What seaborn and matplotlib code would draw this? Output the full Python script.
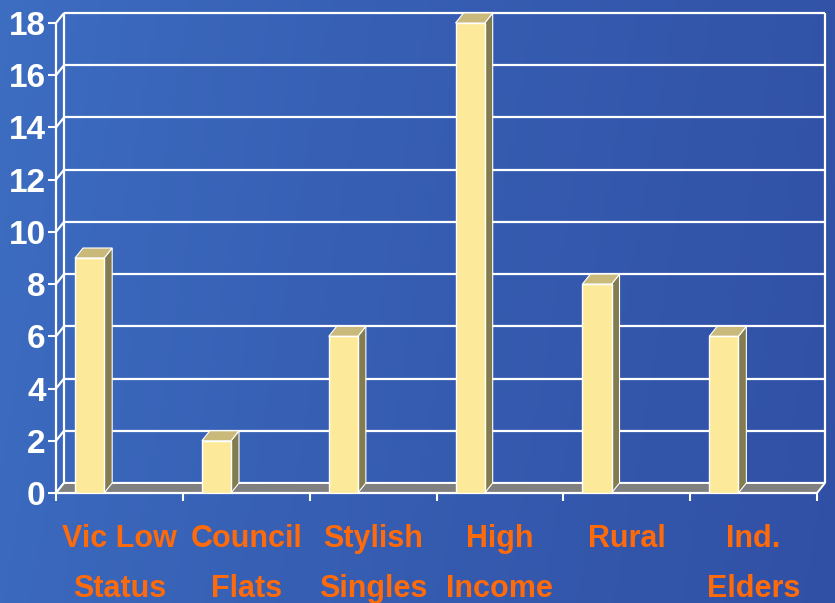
import numpy as np
import pandas as pd
import matplotlib
matplotlib.use("Agg")
import matplotlib.pyplot as plt
import seaborn as sns
from matplotlib.transforms import IdentityTransform
from matplotlib.patches import Polygon
from matplotlib.lines import Line2D

# ---- data ----
categories = ["Vic Low\nStatus", "Council\nFlats", "Stylish\nSingles",
              "High\nIncome", "Rural", "Ind.\nElders"]
values = [9, 2, 6, 18, 8, 6]
y_ticks = [0, 2, 4, 6, 8, 10, 12, 14, 16, 18]

sns.set_theme(style="white")
plt.rcParams['font.family'] = ['Liberation Sans', 'DejaVu Sans']

W, H, DPI = 835, 603, 100
fig = plt.figure(figsize=(W / DPI, H / DPI), dpi=DPI)

# background gradient
bg = fig.add_axes([0, 0, 1, 1])
bg.set_axis_off()
xs = np.linspace(0, 1, 200)[None, :]
ys = np.linspace(0, 1, 150)[:, None]
left = np.array([0x3D, 0x6E, 0xC2]) / 255
right = np.array([0x30, 0x4F, 0xA4]) / 255
t = np.clip(xs * 0.85 + ys * 0.1, 0, 1) ** 0.8
img = left[None, None, :] * (1 - t[..., None]) + right[None, None, :] * t[..., None]
bg.imshow(img, aspect='auto', extent=[0, 1, 0, 1], origin='upper')
bg.set_xlim(0, 1); bg.set_ylim(0, 1)

# front plane of the chart
x_left, x_right, y_bot, y_top = 56, 817, 493, 23
ax = fig.add_axes([x_left / W, (H - y_bot) / H, (x_right - x_left) / W, (y_bot - y_top) / H])
ax.patch.set_alpha(0)

df = pd.DataFrame({"segment": categories, "count": values})
sns.barplot(data=df, x="segment", y="count", width=0.23, color="#FCEA9A",
            saturation=1, edgecolor="white", linewidth=1, ax=ax, zorder=4)

shift = 0.265
n = len(categories)
ax.set_xlim(-shift, n - shift)
ax.set_ylim(0, 18)
for s in ax.spines.values():
    s.set_visible(False)
ax.set_xlabel("")
ax.set_ylabel("")

DX, DY = 8, 10  # depth offset in pixels


def P(x, y, back=False):
    px, py = ax.transData.transform((x, y))
    if back:
        px += DX
        py += DY
    return (px, py)


def line(pts, z=2, lw=1.6, color="white"):
    xs_, ys_ = zip(*pts)
    ax.add_line(Line2D(xs_, ys_, transform=IdentityTransform(), color=color,
                       lw=lw, zorder=z, clip_on=False, solid_capstyle='butt'))


def poly(pts, fc, z=3, ec="white", lw=0.8):
    ax.add_patch(Polygon(pts, closed=True, transform=IdentityTransform(), facecolor=fc,
                         edgecolor=ec, lw=lw, zorder=z, clip_on=False))


x0, x1 = -shift, n - shift
# floor
poly([P(x0, 0), P(x1, 0), P(x1, 0, True), P(x0, 0, True)], "#808080", z=1.5, ec="white", lw=1.4)
# back wall grid lines and left wall diagonals
for yv in y_ticks:
    line([P(x0, yv, True), P(x1, yv, True)], z=1)
    line([P(x0, yv), P(x0, yv, True)], z=1)
# back wall verticals
line([P(x0, 0, True), P(x0, 18, True)], z=1)
line([P(x1, 0, True), P(x1, 18, True)], z=1)
# front axis lines
line([P(x0, 0), P(x0, 18)], z=2)
line([P(x0, 0), P(x1, 0)], z=2)

# 3D sides and tops of bars
for p in ax.patches[:]:
    if not isinstance(p, matplotlib.patches.Rectangle):
        continue
    bx, bw, bh = p.get_x(), p.get_width(), p.get_height()
    if bh <= 0:
        continue
    poly([P(bx + bw, 0), P(bx + bw, bh), P(bx + bw, bh, True), P(bx + bw, 0, True)],
         "#837C50", z=3.5)
    poly([P(bx, bh), P(bx + bw, bh), P(bx + bw, bh, True), P(bx, bh, True)],
         "#C9B97B", z=3.5)

# ticks
ax.set_yticks(y_ticks)
ax.set_yticklabels([str(v) for v in y_ticks])
ax.tick_params(axis='y', which='major', left=True, length=5.5, width=1.5, color='white',
               labelcolor='white', labelsize=24, pad=2, direction='out')
for lab in ax.get_yticklabels():
    lab.set_fontweight('bold')

ax.set_xticks([k - shift for k in range(n + 1)])
ax.set_xticklabels([""] * (n + 1))
ax.set_xticks([k + 0.5 - shift for k in range(n)], minor=True)
ax.set_xticklabels(categories, minor=True)
ax.tick_params(axis='x', which='major', bottom=True, length=6, width=1.5, color='white',
               direction='out')
ax.tick_params(axis='x', which='minor', bottom=False, length=0, labelcolor='#FF6A0A',
               labelsize=22, pad=22.5)
for lab in ax.get_xticklabels(minor=True):
    lab.set_fontweight('bold')
    lab.set_linespacing(1.86)
    lab.set_verticalalignment('top')

fig.savefig("out.png", dpi=DPI)
